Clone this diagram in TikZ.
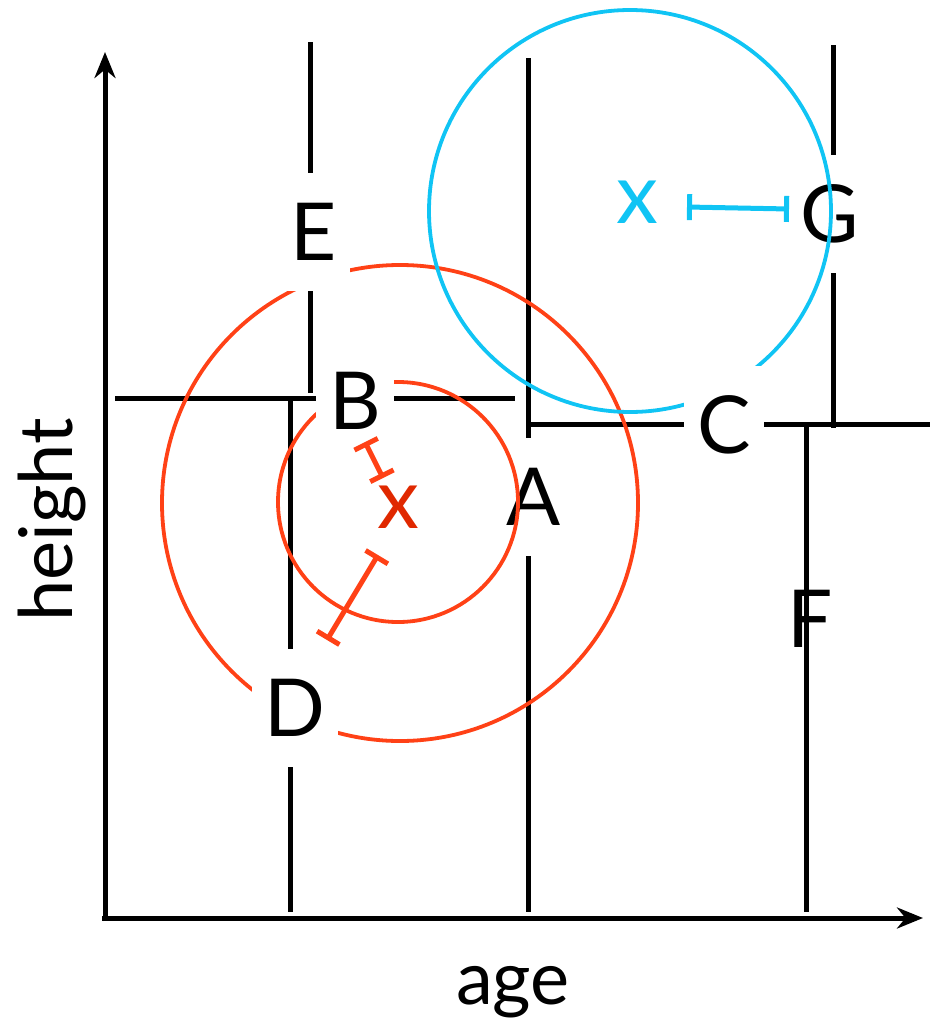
\documentclass[tikz,border=0pt]{standalone}
\usepackage{fontspec}
\setmainfont{Lato}
\usepackage{tikz}
\usetikzlibrary{arrows.meta}
\usepackage{xcolor}

\definecolor{ringred}{HTML}{FF4116}
\definecolor{crossred}{HTML}{E02800}
\definecolor{skyblue}{HTML}{10C4F4}

\tikzset{
  split/.style={line width=5pt, black},
  axisline/.style={line width=5pt, -{Stealth[length=26pt,width=21pt]}},
  ring/.style={line width=3.8pt},
  errbar/.style={line width=5pt, {Bar[width=26pt]}-{Bar[width=26pt]}},
  cut/.style={fill=white, inner xsep=13pt, inner ysep=0pt,
    minimum height=118pt, font=\fontsize{80}{96}\selectfont},
  letter/.style={inner sep=0pt, font=\fontsize{80}{96}\selectfont},
  axislabel/.style={font=\fontsize{74}{90}\selectfont},
  centre/.style={inner sep=0pt, font=\fontsize{84}{96}\selectfont}
}

\begin{document}
\begin{tikzpicture}[x=1pt, y=-1pt]
      \useasboundingbox (0,0) rectangle (937,1031);

      % axes
      \coordinate (origin) at (105,918);
      \draw[axisline] (105,921) -- (105,52);
      \draw[axisline] (102,918) -- (923,918);
      \node[axislabel, rotate=90] (heightlab) at (52,520) {height};
      \node[axislabel] (agelab) at (513,992) {age};

      % F sits under its split line
      \node[letter] (labF) at (810,619) {F};

      % split lines
      \draw[split] (310,42) -- (310,393);
      \draw[split] (528,58) -- (528,912);
      \draw[split] (833,45) -- (833,428);
      \draw[split] (290,396) -- (290,912);
      \draw[split] (806,426) -- (806,912);
      \draw[split] (115,398) -- (515,398);
      \draw[split] (526,424) -- (930,424);

      \node[cut] (labA) at (534,497) {A};
      \node[cut] (labG) at (830,214) {G};

      % neighbourhoods
      \draw[ring, ringred] (400,503) circle[radius=238];
      \draw[ring, ringred] (398,502) circle[radius=120];
      \draw[ring, skyblue] (630,211) circle[radius=201];

      \node[cut] (labE) at (314,232) {E};
      \node[cut] (labB) at (355,401) {B};
      \node[cut] (labC) at (724,425) {C};
      \node[cut] (labD) at (295,708) {D};

      % query points and distances
      \node[centre, crossred] (redX) at (398,507) {x};
      \node[centre, skyblue] (blueX) at (637,202) {x};
      \draw[errbar, ringred] (365,442) -- (383,478);
      \draw[errbar, ringred] (378,555) -- (327,640);
      \draw[errbar, skyblue] (687,207) -- (789,209);
\end{tikzpicture}
\end{document}
